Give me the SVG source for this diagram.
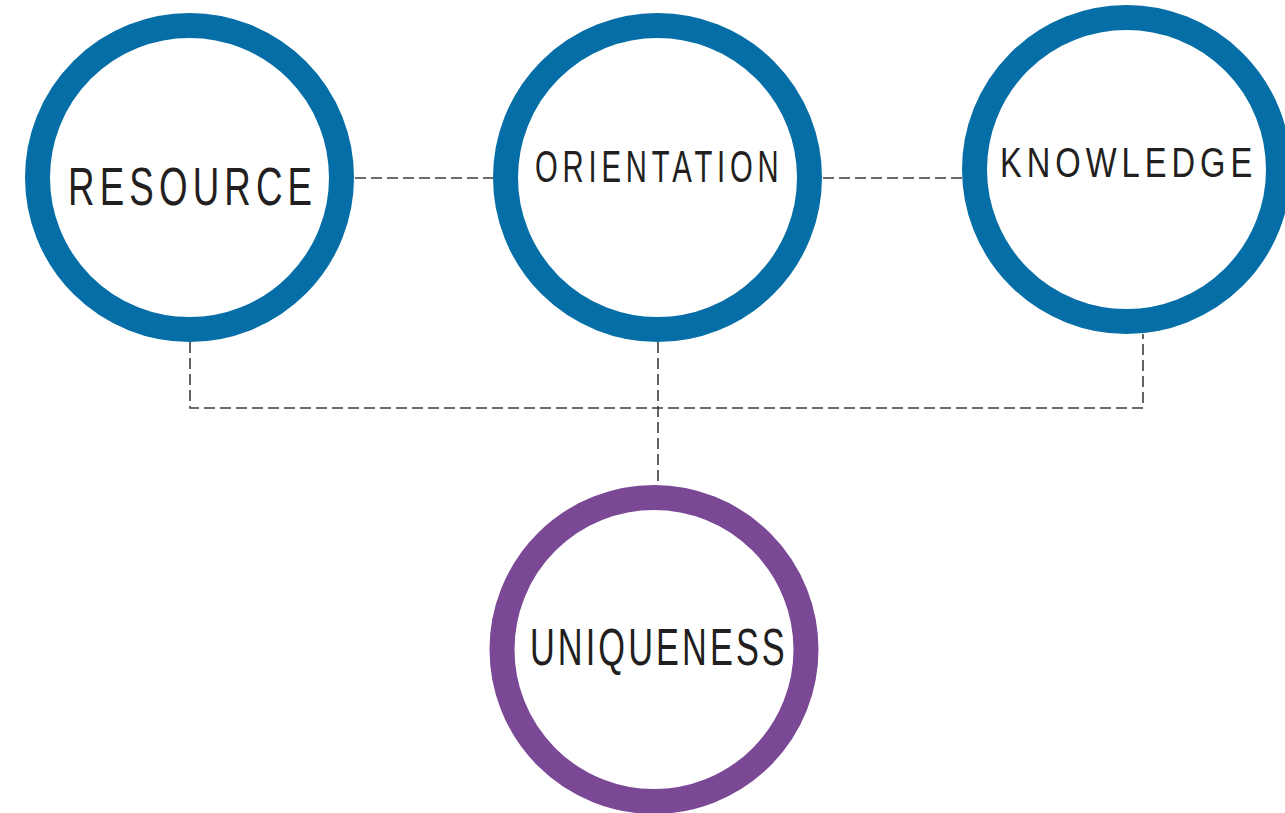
<svg xmlns="http://www.w3.org/2000/svg" width="1285" height="813" viewBox="0 0 1285 813">
  <style>
    .ring { fill: #ffffff; stroke-width: 25; }
    .blue { stroke: #066ea6; }
    .purple { stroke: #7b4896; }
    .label { font-family: "Liberation Sans", Arial, sans-serif; fill: #231f20; font-weight: normal; }
    .link { fill: none; stroke: #3c3c3c; stroke-width: 1.6; stroke-dasharray: 11 5; }
  </style>
  <rect width="1285" height="813" fill="#ffffff"/>

  <!-- dashed connectors -->
  <g id="connectors">
    <line class="link" x1="355" y1="178" x2="493" y2="178"/>
    <line class="link" x1="823" y1="178" x2="962" y2="178"/>
    <polyline class="link" points="190,342 190,408 1143,408 1143,334"/>
    <line class="link" x1="658" y1="342" x2="658" y2="485"/>
  </g>

  <!-- labels use condensed glyphs: narrow horizontal scale with open tracking -->
  <g id="node-resource">
    <circle class="ring blue" cx="189.5" cy="177.5" r="152"/>
    <text class="label" transform="translate(68,205) scale(0.68,1)" font-size="54" textLength="359" lengthAdjust="spacing">RESOURCE</text>
  </g>

  <g id="node-orientation">
    <circle class="ring blue" cx="657.5" cy="177.5" r="152"/>
    <text class="label" transform="translate(535,182) scale(0.65,1)" font-size="45" textLength="375" lengthAdjust="spacing">ORIENTATION</text>
  </g>

  <g id="node-knowledge">
    <circle class="ring blue" cx="1126.5" cy="169.5" r="152"/>
    <text class="label" transform="translate(1000,177) scale(0.76,1)" font-size="43" textLength="332" lengthAdjust="spacing">KNOWLEDGE</text>
  </g>

  <g id="node-uniqueness">
    <circle class="ring purple" cx="654" cy="649.5" r="152"/>
    <text class="label" transform="translate(530,665) scale(0.66,1)" font-size="52" textLength="386" lengthAdjust="spacing">UNIQUENESS</text>
  </g>
</svg>
